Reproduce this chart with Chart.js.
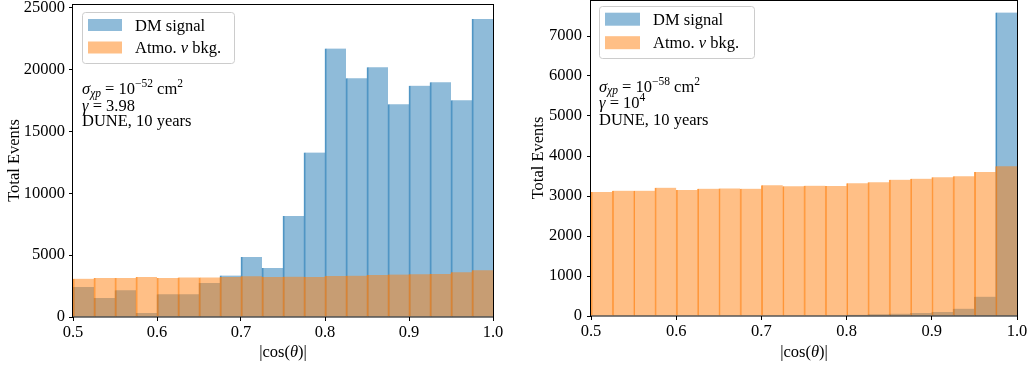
<!DOCTYPE html>
<html><head><meta charset="utf-8">
<script src="https://cdn.jsdelivr.net/npm/chart.js@4.4.0/dist/chart.umd.min.js"></script>
<style>
html,body{margin:0;padding:0;background:#fff;width:1033px;height:367px;overflow:hidden}
.wrap{position:absolute;top:0;height:367px}
#w1{left:0;width:516px}
#w2{left:516px;width:517px}
canvas{display:block}
</style></head><body>
<div class="wrap" id="w1"><canvas id="c1" width="516" height="367"></canvas></div>
<div class="wrap" id="w2"><canvas id="c2" width="517" height="367"></canvas></div>
<script>
// ---- data ----
const binCenters = [0.5125,0.5375,0.5625,0.5875,0.6125,0.6375,0.6625,0.6875,0.7125,0.7375,
                    0.7625,0.7875,0.8125,0.8375,0.8625,0.8875,0.9125,0.9375,0.9625,0.9875];
const xTicks = [0.5,0.6,0.7,0.8,0.9,1.0];
const leftDM   = [2430,1540,2160,320,1830,1830,2750,3350,4850,3960,8170,13290,21700,19300,20190,17190,18700,18970,17520,24090];
const leftAtmo = [3100,3150,3150,3230,3150,3200,3200,3230,3290,3230,3260,3230,3310,3340,3400,3430,3450,3480,3610,3770];
const rightDM   = [0,0,0,0,0,0,0,0,0,0,0,0,30,45,58,75,100,183,484,7586];
const rightAtmo = [3100,3133,3133,3208,3150,3183,3190,3183,3266,3241,3258,3250,3316,3341,3408,3433,3466,3491,3600,3742];
const leftYTicks = [0,5000,10000,15000,20000,25000];
const rightYTicks = [0,1000,2000,3000,4000,5000,6000,7000];
const seriesLabels = ['DM signal', 'Atmo. ν bkg.'];
const xTitle = '|cos(θ)|';
const yTitle = 'Total Events';

const FONT = '"Liberation Serif", "Times New Roman", serif';
const FS = 16.5;
const BLUE = 'rgba(31,119,180,0.5)', BLUE_E = 'rgba(31,119,180,0.72)';
const ORANGE = 'rgba(255,127,14,0.5)', ORANGE_E = 'rgba(255,127,14,0.72)';

Chart.defaults.font.family = FONT;
Chart.defaults.font.size = FS;
Chart.defaults.color = '#000';

function drawRich(ctx, x, y, segs, align) {
  let total = 0;
  for (const s of segs) { ctx.font = (s.i ? 'italic ' : '') + (s.s || FS) + 'px ' + FONT; total += ctx.measureText(s.t).width; }
  let cx = align === 'center' ? x - total / 2 : x;
  ctx.textBaseline = 'alphabetic'; ctx.textAlign = 'left'; ctx.fillStyle = '#000';
  for (const s of segs) {
    ctx.font = (s.i ? 'italic ' : '') + (s.s || FS) + 'px ' + FONT;
    ctx.fillText(s.t, cx, y + (s.dy || 0));
    cx += ctx.measureText(s.t).width;
  }
}

function splitGreek(str) {
  const segs = []; let buf = '';
  for (const ch of str) {
    if ('νθσγχ'.includes(ch)) { if (buf) segs.push({t: buf}); segs.push({t: ch, i: true}); buf = ''; }
    else buf += ch;
  }
  if (buf) segs.push({t: buf});
  return segs;
}

function makeChart(id, dm, atmo, yTicks, lay) {
  const ctxEl = document.getElementById(id);
  const toPts = arr => arr.map((v, i) => ({x: binCenters[i], y: v}));
  const overlay = {
    id: 'overlay',
    afterDatasetsDraw(chart) {
      const ctx = chart.ctx, a = chart.chartArea;
      ctx.save();
      ctx.strokeStyle = '#000'; ctx.lineWidth = 1;
      ctx.strokeRect(Math.round(a.left) - 0.5, Math.round(a.top) + 0.5, Math.round(a.right - a.left) + 1, Math.round(a.bottom - a.top) - 0.5);
      // legend
      const L = lay.legend;
      ctx.fillStyle = 'rgba(255,255,255,0.8)';
      ctx.strokeStyle = '#cccccc'; ctx.lineWidth = 1;
      ctx.beginPath(); ctx.roundRect(L.x + 0.5, L.y + 0.5, L.w, L.h, 3); ctx.fill(); ctx.stroke();
      const cols = [BLUE, ORANGE];
      for (let k = 0; k < 2; k++) {
        ctx.fillStyle = cols[k];
        ctx.fillRect(L.px, L.py[k], L.pw, L.ph);
        drawRich(ctx, L.tx, L.py[k] + L.ph / 2 + 5.5, splitGreek(seriesLabels[k]));
      }
      // annotation
      const A = lay.ann;
      drawRich(ctx, A.x, A.y[0], [{t:'σ', i:true}, {t:'χp', i:true, s:11.5, dy:2.5}, {t:' = 10'}, {t:'−' + A.exp, s:11.5, dy:-7}, {t:' cm'}, {t:'2', s:11.5, dy:-7}]);
      drawRich(ctx, A.x, A.y[1], A.gamma);
      drawRich(ctx, A.x, A.y[2], [{t:'DUNE, 10 years'}]);
      // axis titles
      drawRich(ctx, (a.left + a.right) / 2, lay.xTitleY, splitGreek(xTitle), 'center');
      ctx.save();
      ctx.translate(lay.yTitleX, (a.top + a.bottom) / 2);
      ctx.rotate(-Math.PI / 2);
      drawRich(ctx, 0, 5.5, [{t: yTitle}], 'center');
      ctx.restore();
      ctx.restore();
    }
  };
  return new Chart(ctxEl, {
    type: 'bar',
    data: {
      datasets: [
        {label: seriesLabels[0], data: toPts(dm), backgroundColor: BLUE, borderColor: BLUE_E,
         borderWidth: {left: 1, right: 0, top: 0, bottom: 0}, borderSkipped: false, order: 1,
         grouped: false, barPercentage: 1, categoryPercentage: 1, inflateAmount: 0.4},
        {label: seriesLabels[1], data: toPts(atmo), backgroundColor: ORANGE, borderColor: ORANGE_E,
         borderWidth: {left: 1, right: 0, top: 0, bottom: 0}, borderSkipped: false, order: 0,
         grouped: false, barPercentage: 1, categoryPercentage: 1, inflateAmount: 0.4}
      ]
    },
    options: {
      responsive: false, animation: false,
      layout: {padding: {left: 0, right: lay.padRight, top: lay.padTop, bottom: 0}},
      plugins: {legend: {display: false}, tooltip: {enabled: false}},
      scales: {
        x: {
          type: 'linear', min: 0.5, max: 1.0, offset: false,
          afterBuildTicks: s => { s.ticks = xTicks.map(v => ({value: v})); },
          ticks: {callback: v => Number(v).toFixed(1), padding: 2, maxRotation: 0, autoSkip: false, color: '#000'},
          grid: {display: true, drawOnChartArea: false, drawTicks: true, tickLength: 4, tickColor: '#000', offset: false},
          border: {display: false},
          afterFit: s => { s.height = lay.xAxisH; s.paddingLeft = 0; s.paddingRight = 0; }
        },
        y: {
          type: 'linear', min: 0, max: lay.ymax,
          afterBuildTicks: s => { s.ticks = yTicks.map(v => ({value: v})); },
          ticks: {callback: v => String(v), padding: lay.yPad, autoSkip: false, color: '#000'},
          grid: {display: true, drawOnChartArea: false, drawTicks: true, tickLength: 4, tickColor: '#000'},
          border: {display: false},
          afterFit: s => { s.width = lay.yAxisW; s.paddingTop = 0; s.paddingBottom = 0; }
        }
      }
    },
    plugins: [overlay]
  });
}

makeChart('c1', leftDM, leftAtmo, leftYTicks, {
  ymax: 25300, padRight: 23, padTop: 4, xAxisH: 50, yAxisW: 73, yPad: 4,
  xTitleY: 357, yTitleX: 13,
  legend: {x: 82, y: 12, w: 152, h: 51, px: 88, pw: 34, ph: 12, py: [19, 41.5], tx: 135},
  ann: {x: 82, y: [94, 110.5, 125.5], exp: '52', gamma: [{t:'γ', i:true}, {t:' = 3.98'}]}
});
makeChart('c2', rightDM, rightAtmo, rightYTicks, {
  ymax: 7900, padRight: 16, padTop: 0, xAxisH: 51, yAxisW: 75, yPad: 5,
  xTitleY: 357, yTitleX: 21,
  legend: {x: 83, y: 6, w: 155, h: 52, px: 89, pw: 35, ph: 13, py: [12.7, 36.2], tx: 137},
  ann: {x: 83, y: [91.5, 108, 124.5], exp: '58', gamma: [{t:'γ', i:true}, {t:' = 10'}, {t:'4', s:11.5, dy:-7}]}
});
</script>
</body></html>
